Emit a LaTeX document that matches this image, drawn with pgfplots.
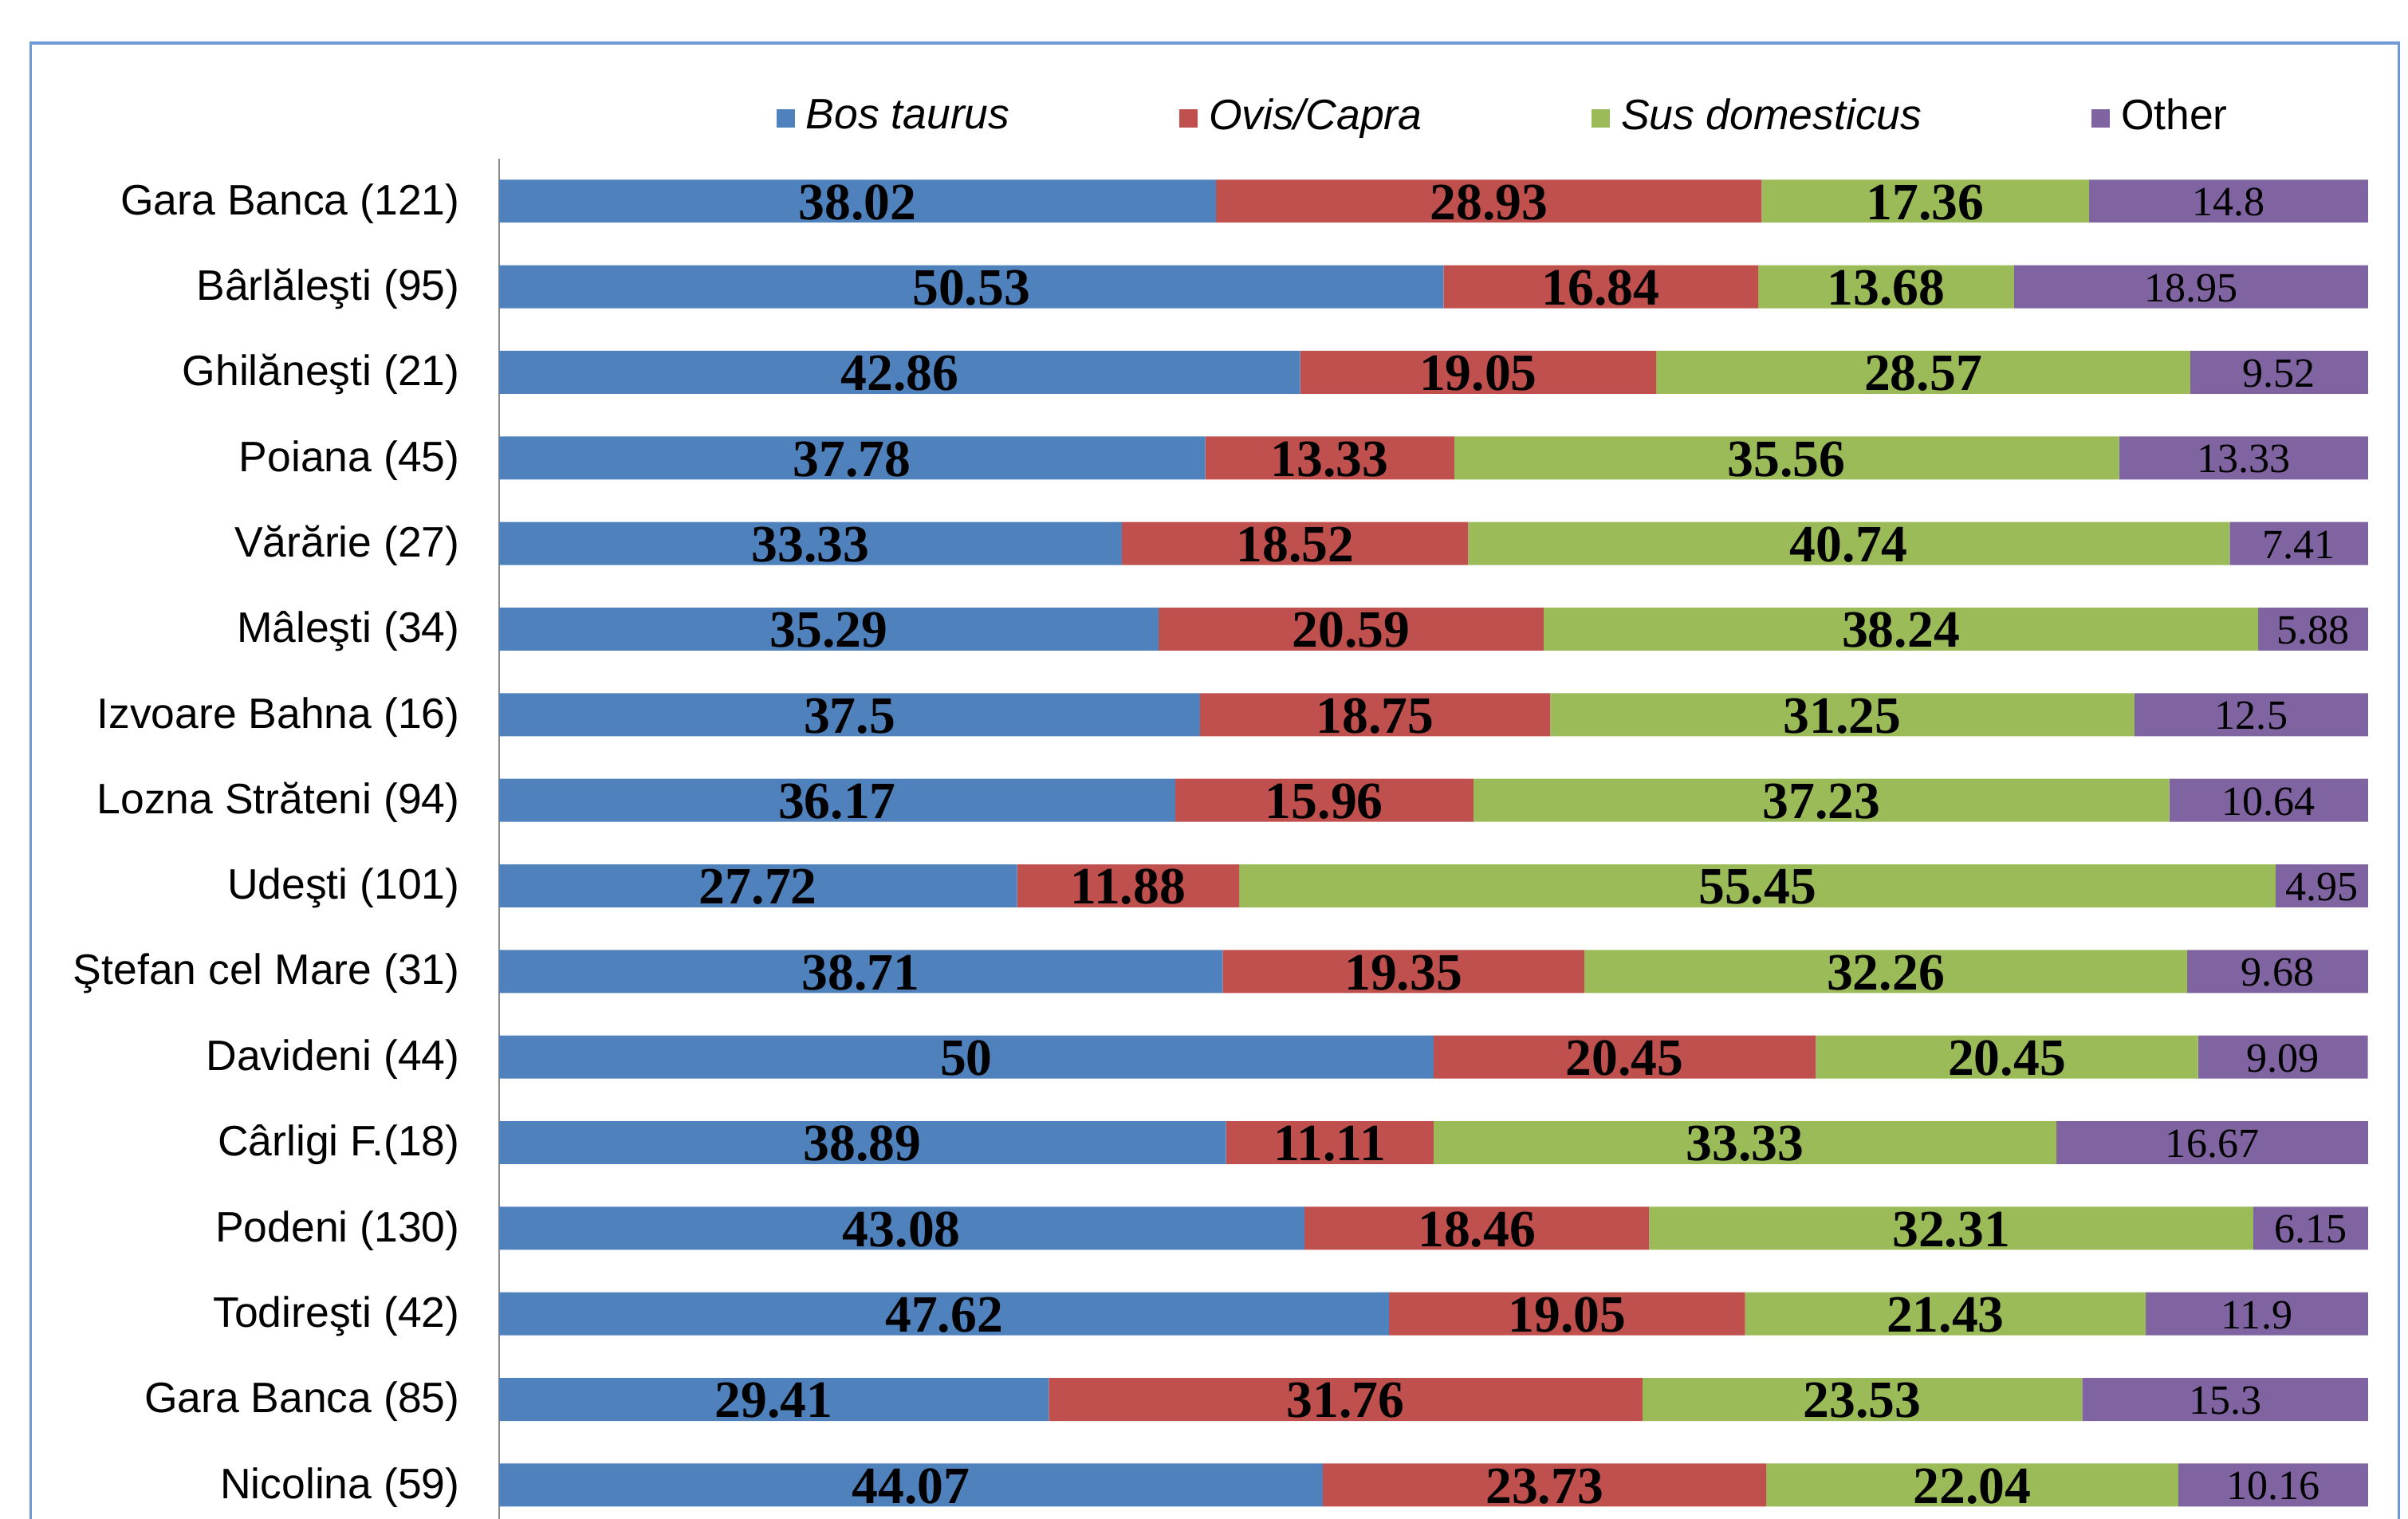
\documentclass[border=0pt]{standalone}
\usepackage{fontspec}
\setmainfont{Liberation Sans}
\newfontfamily\valfont{Liberation Serif}
\usepackage{pgfplots}
\usepackage{pgfplotstable}
\pgfplotsset{compat=1.18}
\definecolor{cbos}{HTML}{4F81BD}
\definecolor{covis}{HTML}{C0504D}
\definecolor{csus}{HTML}{9BBB59}
\definecolor{coth}{HTML}{8064A2}
\definecolor{cframe}{RGB}{110,155,215}
\pgfplotstableread{
bos ovis sus oth lbos lovis lsus loth
38.36 29.19 17.52 14.93 38.02 28.93 17.36 14.8
50.53 16.84 13.68 18.95 50.53 16.84 13.68 18.95
42.86 19.05 28.57 9.52 42.86 19.05 28.57 9.52
37.78 13.33 35.56 13.33 37.78 13.33 35.56 13.33
33.33 18.52 40.74 7.41 33.33 18.52 40.74 7.41
35.29 20.59 38.24 5.88 35.29 20.59 38.24 5.88
37.5 18.75 31.25 12.5 37.5 18.75 31.25 12.5
36.17 15.96 37.23 10.64 36.17 15.96 37.23 10.64
27.72 11.88 55.45 4.95 27.72 11.88 55.45 4.95
38.71 19.35 32.26 9.68 38.71 19.35 32.26 9.68
50 20.45 20.45 9.09 50 20.45 20.45 9.09
38.89 11.11 33.33 16.67 38.89 11.11 33.33 16.67
43.08 18.46 32.31 6.15 43.08 18.46 32.31 6.15
47.62 19.05 21.43 11.9 47.62 19.05 21.43 11.9
29.41 31.76 23.53 15.3 29.41 31.76 23.53 15.3
44.07 23.73 22.04 10.16 44.07 23.73 22.04 10.16
}\data
\pgfplotsset{
  common/.style={
    at={(32.5mm,88.59mm)}, anchor=north west,
    scale only axis, width=121.7mm, height=89.17mm,
    xmin=0, xmax=100, ymin=-0.5, ymax=15.5, y dir=reverse,
    enlargelimits=false,
  },
  vallab/.style={draw=none, mark=none, nodes near coords, point meta=explicit symbolic,
    every node near coord/.append style={anchor=center, inner sep=0pt, yshift=-0.08mm}},
}
\begin{document}
\begin{tikzpicture}
\useasboundingbox (0,0) rectangle (156.8mm,98.9mm);
\draw[cframe, line width=0.2mm] (2mm,-5mm) rectangle (156.2mm,96.1mm);
\begin{axis}[
  common,
  xbar stacked, bar width=2.8mm,
  axis x line=none,
  axis y line*=left,
  y axis line style={-, draw=gray!90, line width=0.1mm},
  ytick={0,...,15},
  yticklabels={Gara Banca (121), Bârlăleşti (95), Ghilăneşti (21), Poiana (45), Vărărie (27), Mâleşti (34), Izvoare Bahna (16), Lozna Străteni (94), Udeşti (101), Ştefan cel Mare (31), Davideni (44), Cârligi F.(18), Podeni (130), Todireşti (42), Gara Banca (85), Nicolina (59)},
  major tick length=0pt,
  yticklabel style={font=\fontsize{7.9}{9}\selectfont, inner sep=0pt, anchor=east, xshift=-2.5mm, yshift=-0.15mm},
  legend columns=4,
  legend style={at={(0.148,1.0293)}, anchor=west, draw=none, fill=none, inner sep=0pt,
    font=\fontsize{7.9}{9}\selectfont,
    /tikz/every even column/.append style={column sep=10.35mm}},
  legend image code/.code={\fill[#1] (0mm,-0.6mm) rectangle (1.2mm,0.6mm);},
]
\addplot[fill=cbos, draw=none] table[x=bos, y expr=\coordindex] {\data};
\addlegendentry{\textit{Bos taurus}}
\addplot[fill=covis, draw=none] table[x=ovis, y expr=\coordindex] {\data};
\addlegendentry{\textit{Ovis/Capra}}
\addplot[fill=csus, draw=none] table[x=sus, y expr=\coordindex] {\data};
\addlegendentry{\textit{Sus domesticus}}
\addplot[fill=coth, draw=none] table[x=oth, y expr=\coordindex] {\data};
\addlegendentry{Other}
\end{axis}
\begin{axis}[common, hide axis, clip=false]
\addplot[vallab, nodes near coords style={font=\valfont\bfseries\fontsize{9.7}{10}\selectfont}]
  table[x expr={\thisrow{bos}/2}, y expr=\coordindex, meta=lbos] {\data};
\addplot[vallab, nodes near coords style={font=\valfont\bfseries\fontsize{9.7}{10}\selectfont}]
  table[x expr={\thisrow{bos}+\thisrow{ovis}/2}, y expr=\coordindex, meta=lovis] {\data};
\addplot[vallab, nodes near coords style={font=\valfont\bfseries\fontsize{9.7}{10}\selectfont}]
  table[x expr={\thisrow{bos}+\thisrow{ovis}+\thisrow{sus}/2}, y expr=\coordindex, meta=lsus] {\data};
\addplot[vallab, nodes near coords style={font=\valfont\fontsize{7.7}{9}\selectfont}]
  table[x expr={\thisrow{bos}+\thisrow{ovis}+\thisrow{sus}+\thisrow{oth}/2}, y expr=\coordindex, meta=loth] {\data};
\end{axis}
\end{tikzpicture}
\end{document}
